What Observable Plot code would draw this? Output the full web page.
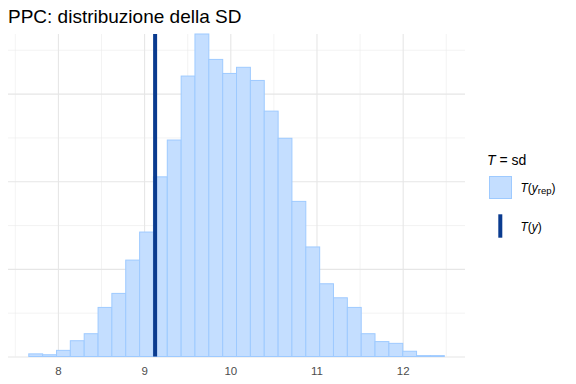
<!DOCTYPE html>
<html>
<head>
<meta charset="utf-8">
<script src="https://cdn.jsdelivr.net/npm/d3@7"></script>
<script src="https://cdn.jsdelivr.net/npm/@observablehq/plot@0.6"></script>
<style>
  html, body { margin: 0; padding: 0; background: #fff; }
  #chart { width: 576px; height: 384px; font-family: "Liberation Sans", Arial, sans-serif; }
</style>
</head>
<body>
<div id="chart"></div>
<script>
// Bin edges of the replicated-statistic histogram (sd of y_rep)
const binEdges = [7.662, 7.823, 7.984, 8.144, 8.305, 8.466, 8.626, 8.787, 8.948, 9.108,
  9.269, 9.430, 9.590, 9.751, 9.912, 10.072, 10.233, 10.394, 10.555, 10.715,
  10.876, 11.037, 11.197, 11.358, 11.519, 11.679, 11.840, 12.001, 12.161, 12.322, 12.483];
// Counts per bin
const binCounts = [3, 2, 7, 18, 26, 56, 72, 110, 142, 205,
  247, 320, 368, 339, 323, 330, 315, 280, 249, 177,
  125, 83, 67, 56, 26, 17, 15, 6, 1, 1];
// Observed statistic T(y)
const observedT = [9.122];
// Axis ticks
const xTicks = [8, 9, 10, 11, 12];
const xMinor = [7.5, 8.5, 9.5, 10.5, 11.5, 12.5];
const yMajor = [0, 100, 200, 300];
const yMinor = [50, 150, 250, 350];

const titleText = "PPC: distribuzione della SD";

const bins = binCounts.map((c, i) => ({x1: binEdges[i], x2: binEdges[i + 1], count: c}));

const fillLight = "#c4deff";
const strokeLight = "#9ecaff";
const darkBlue = "#0a3b8f";
const gridCol = "#ebebeb";

const plot = Plot.plot({
  width: 576,
  height: 384,
  marginLeft: 8,
  marginRight: 111,
  marginTop: 34,
  marginBottom: 27.5,
  style: {fontFamily: "Liberation Sans, Arial, sans-serif", background: "white"},
  x: {domain: [7.421, 12.723], label: null},
  y: {domain: [0, 368], axis: null},
  marks: [
    Plot.gridX(xMinor, {stroke: gridCol, strokeOpacity: 1, strokeWidth: 0.6}),
    Plot.gridY(yMinor, {stroke: gridCol, strokeOpacity: 1, strokeWidth: 0.6}),
    Plot.gridX(xTicks, {stroke: "#e6e6e6", strokeOpacity: 1, strokeWidth: 1.1}),
    Plot.gridY(yMajor, {stroke: "#e6e6e6", strokeOpacity: 1, strokeWidth: 1.1}),
    Plot.rectY(bins, {x1: "x1", x2: "x2", y: "count", fill: fillLight, stroke: strokeLight, strokeWidth: 1, inset: 0}),
    Plot.ruleX(observedT, {stroke: darkBlue, strokeWidth: 4}),
    Plot.axisX(xTicks, {tickSize: 0, tickPadding: 9.5, fontSize: 11.5, color: "#4d4d4d", label: null})
  ]
});

document.getElementById("chart").appendChild(plot);

const svg = d3.select(plot);
// Title
svg.append("text")
  .attr("x", 8).attr("y", 23)
  .attr("text-anchor", "start")
  .attr("font-size", 19).attr("fill", "#000")
  .attr("font-family", "Liberation Sans, Arial, sans-serif")
  .text(titleText);

// Legend
const lg = svg.append("g")
  .attr("font-family", "Liberation Sans, Arial, sans-serif")
  .attr("text-anchor", "start")
  .attr("fill", "#000");
const lt = lg.append("text").attr("x", 487).attr("y", 165).attr("font-size", 14);
lt.append("tspan").attr("font-style", "italic").text("T");
lt.append("tspan").text(" = sd");

lg.append("rect").attr("x", 489.5).attr("y", 176.5).attr("width", 22).attr("height", 22)
  .attr("fill", fillLight).attr("stroke", strokeLight).attr("stroke-width", 1);
const l1 = lg.append("text").attr("x", 520.5).attr("y", 191.5).attr("font-size", 12);
l1.append("tspan").attr("font-style", "italic").text("T");
l1.append("tspan").text("(");
l1.append("tspan").attr("font-style", "italic").text("y");
l1.append("tspan").attr("font-size", 9.5).attr("dy", 2.5).text("rep");
l1.append("tspan").attr("dy", -2.5).text(")");

lg.append("rect").attr("x", 498.3).attr("y", 214.3).attr("width", 4).attr("height", 23.4)
  .attr("fill", darkBlue);
const l2 = lg.append("text").attr("x", 520.5).attr("y", 230.5).attr("font-size", 12);
l2.append("tspan").attr("font-style", "italic").text("T");
l2.append("tspan").text("(");
l2.append("tspan").attr("font-style", "italic").text("y");
l2.append("tspan").text(")");
</script>
</body>
</html>
